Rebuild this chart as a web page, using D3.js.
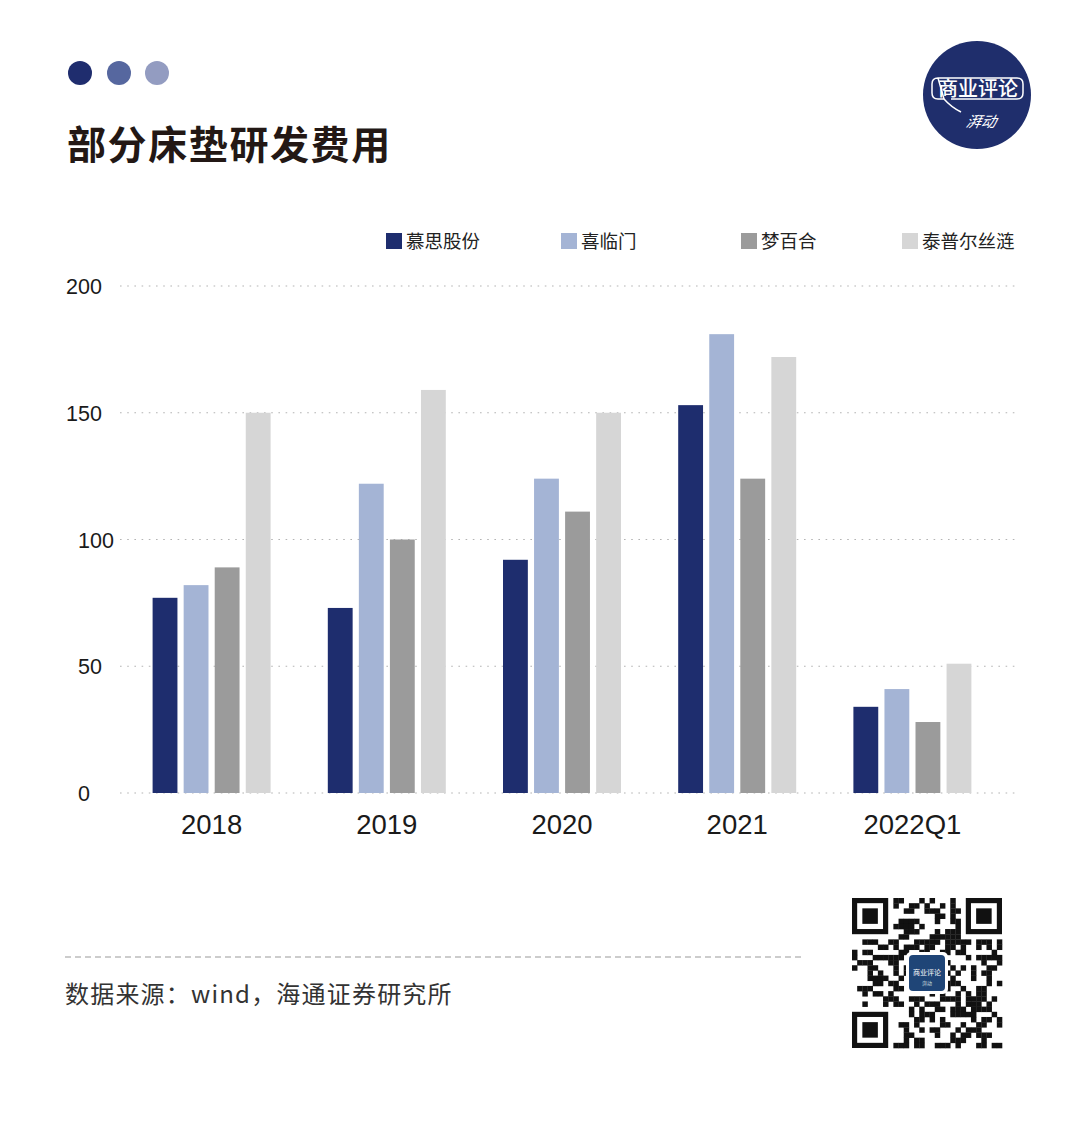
<!DOCTYPE html>
<html><head><meta charset="utf-8">
<script src="https://cdn.jsdelivr.net/npm/d3@7"></script>
<style>
html,body{margin:0;padding:0;background:#fff;}
svg{display:block;}
</style></head>
<body>
<svg id="c" width="1080" height="1121"></svg>
<script>
const categories = ["2018","2019","2020","2021","2022Q1"];
const seriesNames = ["慕思股份","喜临门","梦百合","泰普尔丝涟"];
const musi    = [77, 73, 92, 153, 34];
const xilinmen= [82, 122, 124, 181, 41];
const mengbaihe=[89, 100, 111, 124, 28];
const tempur  = [150, 159, 150, 172, 51];
const seriesValues = [musi, xilinmen, mengbaihe, tempur];
const yTicks = [0, 50, 100, 150, 200];
const colors = ["#1e2d6e", "#a4b4d5", "#9b9b9b", "#d6d6d6"];
const title = "部分床垫研发费用";
const source = "数据来源：wind，海通证券研究所";

const svg = d3.select("#c");
const cjk = "'Noto Sans CJK SC','Noto Sans',sans-serif";
const latin = "'Liberation Sans',Arial,Helvetica,sans-serif";

svg.append("rect").attr("width",1080).attr("height",1121).attr("fill","#fff");

// decorative dots
[["#1f2d6e",80],["#56679f",119],["#939cc1",157]].forEach(([c,x])=>{
  svg.append("circle").attr("cx",x).attr("cy",73).attr("r",12).attr("fill",c);
});

// title
svg.append("text").attr("x",67).attr("y",159).text(title)
  .attr("font-family",cjk).attr("font-weight",700).attr("font-size",39)
  .attr("fill","#231815").attr("letter-spacing",1.6);

// logo
const lg = svg.append("g").attr("transform","translate(977,95)");
lg.append("circle").attr("r",54).attr("fill","#1f2e6c");
lg.append("path").attr("d","M-39,-17 H40 Q46,-17 46,-11 V-2 Q46,4 40,4 H-26 M-33,4 H-39 Q-45,4 -45,-2 V-11 Q-45,-17 -39,-17 Z")
  .attr("fill","none").attr("stroke","#fff").attr("stroke-width",1.5).attr("stroke-linejoin","round");
lg.append("path").attr("d","M-33,4 Q-26,12 -16,17").attr("fill","none").attr("stroke","#fff").attr("stroke-width",1.5);
lg.append("text").attr("x",1).attr("y",1).attr("text-anchor","middle").text("商业评论")
  .attr("font-family",cjk).attr("font-size",20).attr("font-weight",500).attr("fill","#fff");
lg.append("text").attr("x",10).attr("y",32).attr("text-anchor","middle").text("湃动")
  .attr("font-family",cjk).attr("font-size",15).attr("font-style","italic").attr("fill","#fff")
  .attr("transform","skewX(-12)");

// scales
const y = d3.scaleLinear().domain([0,200]).range([793,286]);
const x0 = d3.scaleBand().domain(categories).range([124,1000]).padding(0);
const groupW = 118;
const x1 = d3.scaleBand().domain(seriesNames).range([0,groupW]).paddingInner(0.2).paddingOuter(0);
const off = (x0.bandwidth()-groupW)/2;

// gridlines
const grid = svg.append("g");
grid.selectAll("line").data(yTicks).join("line")
  .attr("x1",120).attr("x2",1018)
  .attr("y1",d=>y(d)).attr("y2",d=>y(d))
  .attr("stroke","#b4b4b4").attr("stroke-width",1.2).attr("stroke-dasharray","1.6,5.6");

// y tick labels
svg.append("g").selectAll("text").data(yTicks).join("text")
  .attr("x",d=> d>=150 ? 66 : 78).attr("y",d=>y(d)+8)
  .text(d=>d).attr("font-family",latin).attr("font-size",21.5).attr("fill","#1a1a1a");

// bars
const g = svg.append("g");
seriesNames.forEach((s,si)=>{
  g.append("g").selectAll("rect").data(categories).join("rect")
    .attr("x",(c)=>x0(c)+off+x1(s))
    .attr("width",x1.bandwidth())
    .attr("y",(c,i)=>y(seriesValues[si][i]))
    .attr("height",(c,i)=>y(0)-y(seriesValues[si][i]))
    .attr("fill",colors[si]);
});

// x labels
svg.append("g").selectAll("text").data(categories).join("text")
  .attr("x",c=>x0(c)+x0.bandwidth()/2).attr("y",834)
  .attr("text-anchor","middle").text(c=>c)
  .attr("font-family",latin).attr("font-size",27.5).attr("fill","#1a1a1a");

// legend
const legX = [386, 561, 741, 902];
const leg = svg.append("g");
seriesNames.forEach((s,i)=>{
  leg.append("rect").attr("x",legX[i]).attr("y",233).attr("width",16).attr("height",16).attr("fill",colors[i]);
  leg.append("text").attr("x",legX[i]+20).attr("y",248).text(s)
    .attr("font-family",cjk).attr("font-size",18.5).attr("fill","#222");
});

// footer dashed line and source
svg.append("line").attr("x1",65).attr("x2",805).attr("y1",957).attr("y2",957)
  .attr("stroke","#9a9a9a").attr("stroke-width",1.2).attr("stroke-dasharray","6,4");
svg.append("text").attr("x",65).attr("y",1003).text(source)
  .attr("font-family",cjk).attr("font-size",24).attr("fill","#333").attr("letter-spacing",1.2);

// decorative QR-like code
const qx=852, qy=898, qs=150, n=29, m=qs/n;
const qr = svg.append("g");
function h(i,j){ let v=(i*73856093)^(j*19349663)^((i+j)*83492791); v=(v^(v>>>13))*1274126177; v^=v>>>16; return (v>>>0)%100; }
function inFinder(i,j){ return (i<8&&j<8)||(i<8&&j>=n-8)||(i>=n-8&&j<8); }
for(let i=0;i<n;i++) for(let j=0;j<n;j++){
  if(inFinder(i,j)) continue;
  if(h(i,j)<48) qr.append("rect").attr("x",qx+j*m).attr("y",qy+i*m).attr("width",m+0.3).attr("height",m+0.3).attr("fill","#111");
}
[[0,0],[0,n-7],[n-7,0]].forEach(([i,j])=>{
  qr.append("rect").attr("x",qx+j*m+m/2).attr("y",qy+i*m+m/2).attr("width",6*m).attr("height",6*m).attr("fill","none").attr("stroke","#111").attr("stroke-width",m);
  qr.append("rect").attr("x",qx+(j+2)*m).attr("y",qy+(i+2)*m).attr("width",3*m).attr("height",3*m).attr("fill","#111");
});
qr.append("rect").attr("x",906).attr("y",952).attr("width",42).attr("height",42).attr("rx",5).attr("fill","#fff");
qr.append("rect").attr("x",909).attr("y",955).attr("width",36).attr("height",36).attr("rx",4).attr("fill","#1f4577");
qr.append("text").attr("x",927).attr("y",975).attr("text-anchor","middle").text("商业评论")
  .attr("font-family",cjk).attr("font-size",7).attr("fill","#fff");
qr.append("text").attr("x",927).attr("y",985).attr("text-anchor","middle").text("湃动")
  .attr("font-family",cjk).attr("font-size",5).attr("fill","#cdd");
</script>
</body></html>
